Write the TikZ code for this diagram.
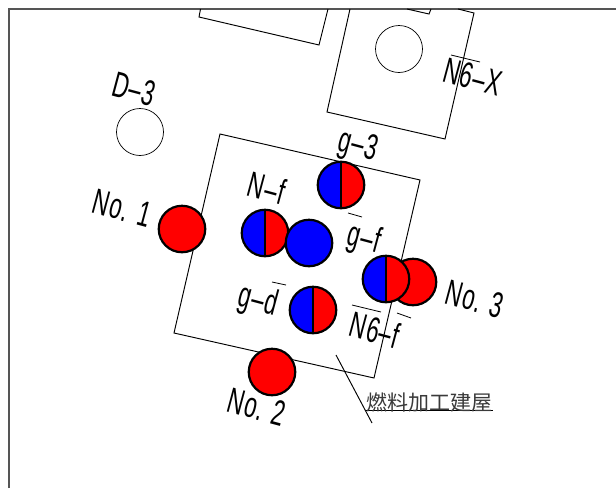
\documentclass[tikz,border=0pt]{standalone}
\usepackage{fontspec}
\setmainfont{Liberation Sans}
\newfontfamily\narrowfont[LetterSpace=4]{Liberation Sans}
\newfontfamily\cjkfont{Noto Sans CJK JP}
\newcommand{\tall}[1]{\scalebox{0.62}[1]{#1}}
\definecolor{framegray}{HTML}{555555}
\definecolor{cjkgray}{HTML}{3A3A3A}
\tikzset{
  outline/.style={draw=black,line width=0.95pt,line join=miter},
  thincirc/.style={circle,draw=black,line width=0.7pt,fill=white,minimum size=47pt,inner sep=0pt},
  wellred/.style={circle,draw=black,line width=2.2pt,fill=red,minimum size=46.5pt,inner sep=0pt},
  wellblue/.style={circle,draw=black,line width=2.2pt,fill=blue,minimum size=46.5pt,inner sep=0pt},
  wellsplit/.style={circle,draw=black,line width=2.2pt,fill=red,minimum size=46.5pt,inner sep=0pt,
    path picture={
      \fill[blue] (path picture bounding box.south west) rectangle (path picture bounding box.north);
      \draw[black,line width=1.8pt] (path picture bounding box.south) -- (path picture bounding box.north);
    }},
  lbl/.style={font=\narrowfont\fontsize{36}{36}\selectfont,rotate=-15,inner sep=0pt,text=black},
  bar/.style={draw=black,line width=0.8pt},
}
\begin{document}
\begin{tikzpicture}[x=1pt,y=-1pt]
\useasboundingbox (0,0) rectangle (616,488);
\clip (0,0) rectangle (616,488);
\fill[white] (0,0) rectangle (616,488);
% frame
\draw[framegray,line width=1.1pt] (9,488) -- (9,9) -- (616,9);
% buildings
\draw[outline] (200.5,9) -- (199,17) -- (319,45) -- (328,9);
\draw[outline] (350,9) -- (327,112) -- (445,139) -- (474,13) -- (458,9);
\draw[outline] (407,9) -- (429,14) -- (431,9);
\draw[outline] (220,134) -- (420,180) -- (374,378) -- (174,333) -- cycle;
% leader
\coordinate (leadA) at (336,355);
\coordinate (leadB) at (372,423);
\coordinate (ulA) at (365,410);
\coordinate (ulB) at (493,410);
\draw[outline] (leadA) -- (leadB);
\draw[black,line width=0.8pt] (ulA) -- (ulB);
\node[anchor=south,inner sep=0pt,text=cjkgray,font=\cjkfont\fontsize{21}{21}\selectfont] (fuel) at (429,412) {燃料加工建屋};
% circles
\node[thincirc] (cD3) at (140,132) {};
\node[thincirc] (cN6X) at (399,49) {};
\node[wellred] (no1) at (182,229) {};
\node[wellred] (no2) at (272,372) {};
\node[wellred] (no3) at (413,282) {};
\node[wellsplit] (g3) at (341,185) {};
\node[wellsplit] (Nf) at (265,233) {};
\node[wellblue] (gf) at (309,243) {};
\node[wellsplit] (N6f) at (386,279) {};
\node[wellsplit] (gd) at (313,310) {};
% labels
\node[lbl] (tD3) at (134,89) {\tall{D–3}};
\node[lbl] (tNo1) at (122,208) {\tall{No. 1}};
\node[lbl] (tg3) at (358,147) {\tall{g–3}};
\node[lbl] (tNf) at (267,188) {\tall{N–f}};
\node[lbl] (tgf) at (364,240) {\tall{g–f}};
\node[lbl] (tgd) at (258,302) {\tall{g–d}};
\node[lbl] (tN6f) at (375,330) {\tall{N6–f}};
\node[lbl] (tNo3) at (475,299) {\tall{No. 3}};
\node[lbl] (tNo2) at (257,407) {\tall{No. 2}};
\node[lbl] (tN6X) at (473,77) {\tall{N6–X}};
% overbars
\draw[bar] (451,55) -- (480,62);
\draw[bar] (348,213) -- (362,217);
\draw[bar] (272,282) -- (286,285);
\draw[bar] (352,305) -- (381,312);
\draw[bar] (397,313) -- (411,318);
\end{tikzpicture}
\end{document}
